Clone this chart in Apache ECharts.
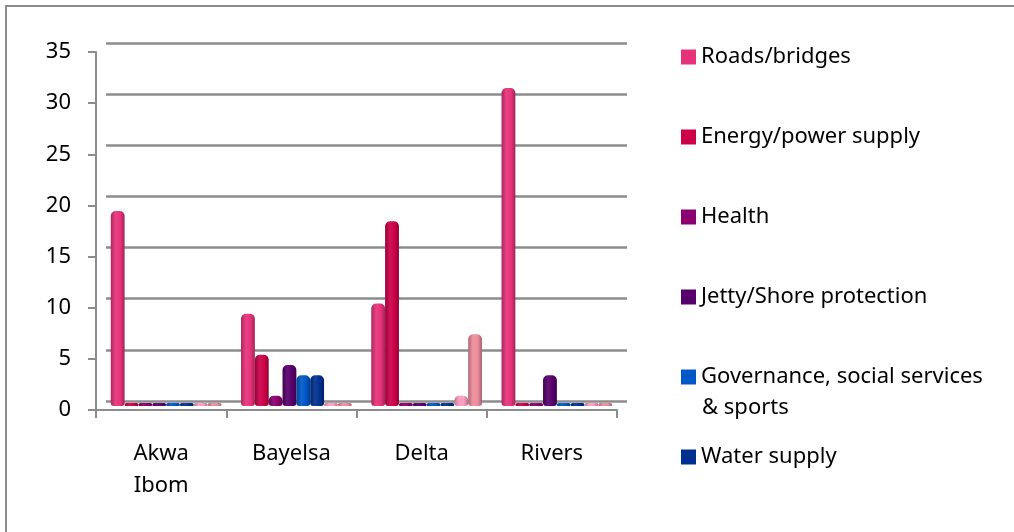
<!DOCTYPE html>
<html>
<head>
<meta charset="utf-8">
<script src="https://cdn.jsdelivr.net/npm/echarts@6/dist/echarts.min.js"></script>
<style>
  html, body { margin: 0; padding: 0; background: #fff; }
  #chart { width: 1014px; height: 532px; }
</style>
</head>
<body>
<div id="chart"></div>
<script>
// data
const states = ['Akwa\nIbom', 'Bayelsa', 'Delta', 'Rivers']
const roads = [19, 9, 10, 31]
const energy = [0, 5, 18, 0]
const health = [0, 1, 0, 0]
const jetty = [0, 4, 0, 3]
const governance = [0, 3, 0, 0]
const water = [0, 3, 0, 0]
const other1 = [0, 0, 1, 0]
const other2 = [0, 0, 7, 0]
const yTicks = [0, 5, 10, 15, 20, 25, 30, 35]

const seriesNames = ['Roads/bridges', 'Energy/power supply', 'Health', 'Jetty/Shore protection',
  'Governance, social services & sports', 'Water supply', 'Series 7', 'Series 8']
const seriesData = [roads, energy, health, jetty, governance, water, other1, other2]
const colors = ['#e6327a', '#cc0048', '#8a006e', '#57006b', '#0057c8', '#00308f', '#ff9cc0', '#ec8c9c']
const legendCount = 6

function shade(hex, f) {
  const n = parseInt(hex.slice(1), 16)
  const ch = [(n >> 16) & 255, (n >> 8) & 255, n & 255].map(v =>
    Math.max(0, Math.min(255, Math.round(f > 0 ? v + (255 - v) * f : v * (1 + f)))))
  return 'rgb(' + ch.join(',') + ')'
}

// horizontal gradient so the bars read a bit like the cylinders
function cylinder(c) {
  return new echarts.graphic.LinearGradient(0, 0, 1, 0, [
    { offset: 0, color: shade(c, -0.25) },
    { offset: 0.35, color: shade(c, 0.08) },
    { offset: 0.7, color: c },
    { offset: 1, color: shade(c, -0.3) }
  ])
}

const font = 'Noto Sans'
const fontSize = 22
const gridColor = '#8c8c8c'

const chart = echarts.init(document.getElementById('chart'))

const option = {
  animation: false,
  textStyle: { fontFamily: font },
  grid: [
    { left: 106, right: 387, top: 43, bottom: 131 },   // back wall
    { left: 101, right: 392, top: 47, bottom: 126 },   // bars
    { left: 96, right: 397, top: 52, bottom: 122 }     // front axes
  ],
  xAxis: [
    { gridIndex: 0, type: 'category', data: states, show: false },
    { gridIndex: 1, type: 'category', data: states, show: false },
    {
      gridIndex: 2, type: 'category', data: states,
      axisLine: { lineStyle: { color: gridColor, width: 2 } },
      axisTick: { show: true, length: 8, lineStyle: { color: gridColor, width: 2 } },
      axisLabel: { color: '#000', fontSize: fontSize, margin: 28, lineHeight: 32, fontFamily: font }
    }
  ],
  yAxis: [
    {
      gridIndex: 0, type: 'value', min: 0, max: 35, interval: 5,
      axisLine: { show: false }, axisTick: { show: false }, axisLabel: { show: false },
      splitLine: { show: true, lineStyle: { color: gridColor, width: 2.5 } }
    },
    { gridIndex: 1, type: 'value', min: 0, max: 35, interval: 5, show: false, splitLine: { show: false } },
    {
      gridIndex: 2, type: 'value', min: yTicks[0], max: yTicks[yTicks.length - 1], interval: 5,
      axisLine: { show: true, lineStyle: { color: gridColor, width: 2 } },
      axisTick: { show: true, length: 8, lineStyle: { color: gridColor, width: 2 } },
      axisLabel: { color: '#000', fontSize: fontSize, margin: 25, fontFamily: font, padding: [10, 0, 0, 0] },
      splitLine: { show: false }
    }
  ],
  legend: seriesNames.slice(0, legendCount).map((name, i) => ({
    data: [{ name, itemStyle: { color: colors[i] } }],
    orient: 'vertical',
    left: 681,
    top: 46 + i * 80,
    padding: 0,
    itemWidth: 15,
    itemHeight: 15,
    selectedMode: false,
    icon: 'rect',
    formatter: n => n.replace(' & sports', ''),
    textStyle: { color: '#000', fontSize: fontSize, fontFamily: font }
  })),
  graphic: [
    {
      type: 'rect', silent: true,
      shape: { x: 6, y: 6, width: 1100, height: 600 },
      style: { fill: 'none', stroke: '#8c8c8c', lineWidth: 2 }
    },
    {
      // second line of the wrapped legend label
      type: 'text', silent: true, left: 702, top: 397,
      style: { text: '& sports', fill: '#000', font: fontSize + 'px "Noto Sans"' }
    }
  ],
  series: seriesNames.map((name, i) => ({
    name,
    type: 'bar',
    xAxisIndex: 1,
    yAxisIndex: 1,
    data: seriesData[i],
    barGap: '0%',
    barCategoryGap: '15%',
    barMinHeight: 3,
    itemStyle: { color: cylinder(colors[i]), borderRadius: [5, 5, 3, 3] }
  }))
}

chart.setOption(option)
</script>
</body>
</html>
